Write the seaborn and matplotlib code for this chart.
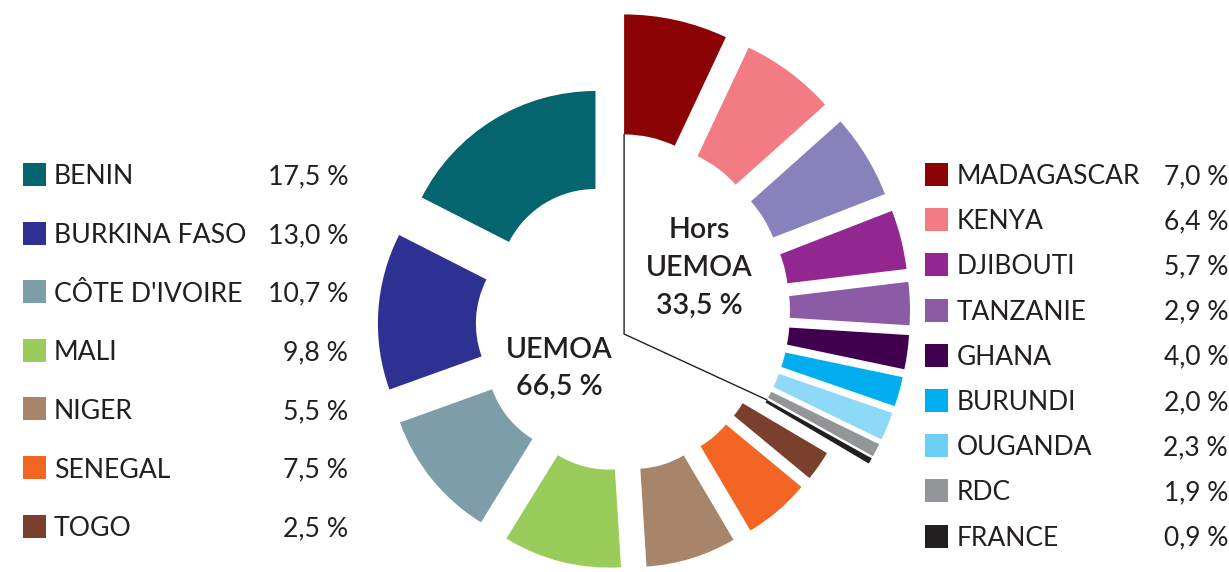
import numpy as np
import matplotlib
matplotlib.use("Agg")
import matplotlib.pyplot as plt
from matplotlib.patches import Rectangle
import seaborn as sns

sns.set_theme(style="white")
plt.rcParams['font.family'] = ['Lato', 'DejaVu Sans']

# ---------------- data ----------------
uemoa_countries = ["BENIN", "BURKINA FASO", "CÔTE D'IVOIRE", "MALI", "NIGER", "SENEGAL", "TOGO"]
uemoa_values = [17.5, 13.0, 10.7, 9.8, 5.5, 7.5, 2.5]
uemoa_labels = ["17,5 %", "13,0 %", "10,7 %", "9,8 %", "5,5 %", "7,5 %", "2,5 %"]
uemoa_colors = ["#05656F", "#2E3192", "#7D9DA8", "#99CC5A", "#A6856A", "#F26522", "#7B3F2E"]

hors_countries = ["MADAGASCAR", "KENYA", "DJIBOUTI", "TANZANIE", "GHANA", "BURUNDI", "OUGANDA", "RDC", "FRANCE"]
hors_values = [7.0, 6.4, 5.7, 2.9, 4.0, 2.0, 2.3, 1.9, 0.9]
hors_labels = ["7,0 %", "6,4 %", "5,7 %", "2,9 %", "4,0 %", "2,0 %", "2,3 %", "1,9 %", "0,9 %"]
hors_colors = ["#8B0304", "#F37B83", "#92278F", "#8B5CA5", "#40004F", "#00AEEF", "#6DCFF6", "#939598", "#231F20"]

# ring segments as drawn (sorted by size; left ring counter-clockwise, right ring clockwise from the top)
uemoa_ring_values = [17.5, 13.0, 10.7, 9.8, 7.5, 5.5, 2.5]
uemoa_ring_colors = ["#05656F", "#2E3192", "#7D9DA8", "#99CC5A", "#A6856A", "#F26522", "#7B3F2E"]
hors_ring_values = [7.0, 6.4, 5.7, 4.0, 2.9, 2.3, 2.0, 1.9, 0.9, 0.4]
hors_ring_colors = ["#8B0304", "#F37B83", "#8882BC", "#92278F", "#8B5CA5", "#40004F",
                    "#00AEEF", "#8ED8F8", "#939598", "#231F20"]

group_labels = ["UEMOA\n66,5 %", "Hors\nUEMOA\n33,5 %"]

TXT = "#231F20"
W, H = 1229, 572

fig = plt.figure(figsize=(W / 100, H / 100), dpi=100)
ax = fig.add_axes([0, 0, 1, 1])

def Y(y_img):
    return H - y_img

# UEMOA ring (counter-clockwise from 12 o'clock)
c1 = (620.3, Y(326.5)); R1, w1, d1 = 195, 98, 47.5
u_wedges, _ = ax.pie(np.array(uemoa_ring_values) / 100.0, colors=uemoa_ring_colors, startangle=90,
                     counterclock=True, normalize=False, center=c1, radius=R1,
                     explode=[d1] * len(uemoa_ring_values), frame=True,
                     wedgeprops=dict(width=w1, linewidth=0, antialiased=True))

# Hors UEMOA ring (clockwise from 12 o'clock)
c2 = (611.0, Y(312.0)); R2, w2, d2 = 239, 120, 60
h_wedges, _ = ax.pie(np.array(hors_ring_values) / 100.0, colors=hors_ring_colors, startangle=90,
                     counterclock=False, normalize=False, center=c2, radius=R2,
                     explode=[d2] * len(hors_ring_values), frame=True,
                     wedgeprops=dict(width=w2, linewidth=0, antialiased=True))

# bracket line around the "Hors UEMOA" group
first = h_wedges[0]
cx, cy = first.center
top = (cx, cy + first.r - first.width)
last = h_wedges[-1]
lx, ly = last.center
ang = np.deg2rad(max(last.theta1, last.theta2))
end = (lx + (last.r - last.width) * np.cos(ang), ly + (last.r - last.width) * np.sin(ang))
vertex = (cx, Y(334))
ax.plot([top[0], vertex[0], end[0]], [top[1], vertex[1], end[1]], color=TXT, lw=1.0,
        solid_joinstyle="miter")

# group labels
ax.text(559, Y(368.5), group_labels[0], ha="center", va="center", fontsize=20.5,
        color=TXT, linespacing=1.55, fontweight="semibold")
ax.text(699.5, Y(268), group_labels[1], ha="center", va="center", fontsize=20.5,
        color=TXT, linespacing=1.55, fontweight="semibold")

# left legend
sq = 23
for i, (name, lab, col) in enumerate(zip(uemoa_countries, uemoa_labels, uemoa_colors)):
    yc = 174.5 + i * 58.6
    ax.add_patch(Rectangle((23, Y(yc + sq / 2)), sq, sq, facecolor=col, edgecolor="none"))
    ax.text(54, Y(yc + 10), name, ha="left", va="baseline", fontsize=19.2, color=TXT)
    ax.text(348, Y(yc + 10), lab, ha="right", va="baseline", fontsize=19.2, color=TXT)

# right legend
for i, (name, lab, col) in enumerate(zip(hors_countries, hors_labels, hors_colors)):
    yc = 174.5 + i * 45.2
    ax.add_patch(Rectangle((925, Y(yc + sq / 2)), sq, sq, facecolor=col, edgecolor="none"))
    ax.text(957, Y(yc + 9.5), name, ha="left", va="baseline", fontsize=19, color=TXT)
    ax.text(1228, Y(yc + 9.5), lab, ha="right", va="baseline", fontsize=19, color=TXT)

ax.set_xlim(0, W)
ax.set_ylim(0, H)
ax.set_aspect("equal", adjustable="box")
ax.axis("off")

fig.savefig("out.png", dpi=100, facecolor="white")
